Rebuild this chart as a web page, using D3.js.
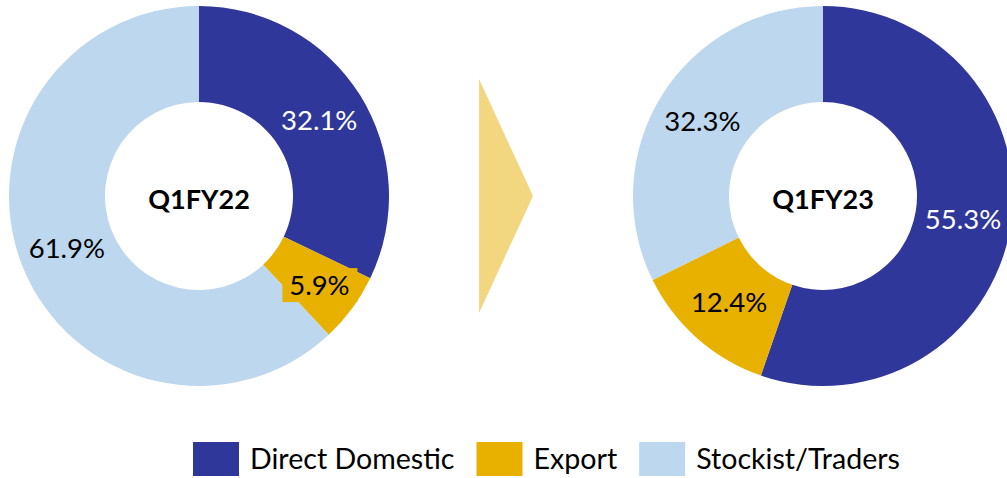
<!DOCTYPE html>
<html>
<head>
<meta charset="utf-8">
<script src="https://cdn.jsdelivr.net/npm/d3@7"></script>
<style>
  body { margin: 0; background: #fff; }
  text { font-family: Lato, "Noto Sans", sans-serif; }
</style>
</head>
<body>
<div id="chart"></div>
<script>
// Chart data
var categories = ["Direct Domestic", "Export", "Stockist/Traders"];
var periods = ["Q1FY22", "Q1FY23"];
var q1fy22 = [32.1, 5.9, 61.9];
var q1fy23 = [55.3, 12.4, 32.3];
var colors = ["#30379a", "#e8b100", "#bdd7ee"];
var labelColors = ["#ffffff", "#000000", "#000000"];

var svgWidth = 1007;
var svgHeight = 478;

var outerRadius = 190;
var innerRadius = 94;
var centers = [{ x: 199, y: 196 }, { x: 823, y: 196 }];

var svg = d3.select("#chart")
    .append("svg")
    .attr("width", svgWidth)
    .attr("height", svgHeight);

var pie = d3.pie()
    .sort(null)
    .value(d => d);

var arc = d3.arc()
    .innerRadius(innerRadius)
    .outerRadius(outerRadius);

[q1fy22, q1fy23].forEach(function(values, i) {
    var g = svg.append("g")
        .attr("transform", `translate(${centers[i].x}, ${centers[i].y})`);

    var arcs = pie(values);

    g.selectAll("path")
        .data(arcs)
        .enter()
        .append("path")
        .attr("d", arc)
        .attr("fill", (d, j) => colors[j]);

    // Percentage labels at slice centroids
    arcs.forEach(function(d, j) {
        var c = arc.centroid(d);
        // small export slice on the left donut: label nudged and boxed
        if (i === 0 && j === 1) {
            c = [c[0] + 6, c[1] + 5];
            g.append("rect")
                .attr("x", c[0] - 37)
                .attr("y", c[1] - 17)
                .attr("width", 75)
                .attr("height", 34)
                .attr("fill", colors[j]);
        }
        g.append("text")
            .attr("x", c[0])
            .attr("y", c[1])
            .attr("dy", "0.36em")
            .attr("text-anchor", "middle")
            .attr("font-size", "27.5px")
            .attr("fill", labelColors[j])
            .text(d.data.toFixed(1) + "%");
    });

    // Period label in the hole
    g.append("text")
        .attr("x", 0)
        .attr("y", 3)
        .attr("dy", "0.36em")
        .attr("text-anchor", "middle")
        .attr("font-size", "27px")
        .attr("font-weight", "bold")
        .attr("fill", "#000")
        .text(periods[i]);
});

// Arrow between the donuts
var arrowX = 479, arrowTop = 79, arrowBottom = 313, arrowTip = 533;
svg.append("path")
    .attr("d", d3.line()([
        [arrowX, arrowTop],
        [arrowTip, (arrowTop + arrowBottom) / 2],
        [arrowX, arrowBottom]
    ]) + "Z")
    .attr("fill", "#f2d680");

// Legend
var legend = svg.append("g")
    .attr("transform", "translate(193, 442)");

var xPos = 0;
categories.forEach(function(name, i) {
    legend.append("rect")
        .attr("x", xPos)
        .attr("y", 0)
        .attr("width", 46)
        .attr("height", 34)
        .attr("fill", colors[i]);
    var t = legend.append("text")
        .attr("x", xPos + 57)
        .attr("y", 27)
        .attr("font-size", "28.6px")
        .attr("fill", "#000")
        .text(name);
    xPos += 57 + t.node().getComputedTextLength() + 22;
});
</script>
</body>
</html>
